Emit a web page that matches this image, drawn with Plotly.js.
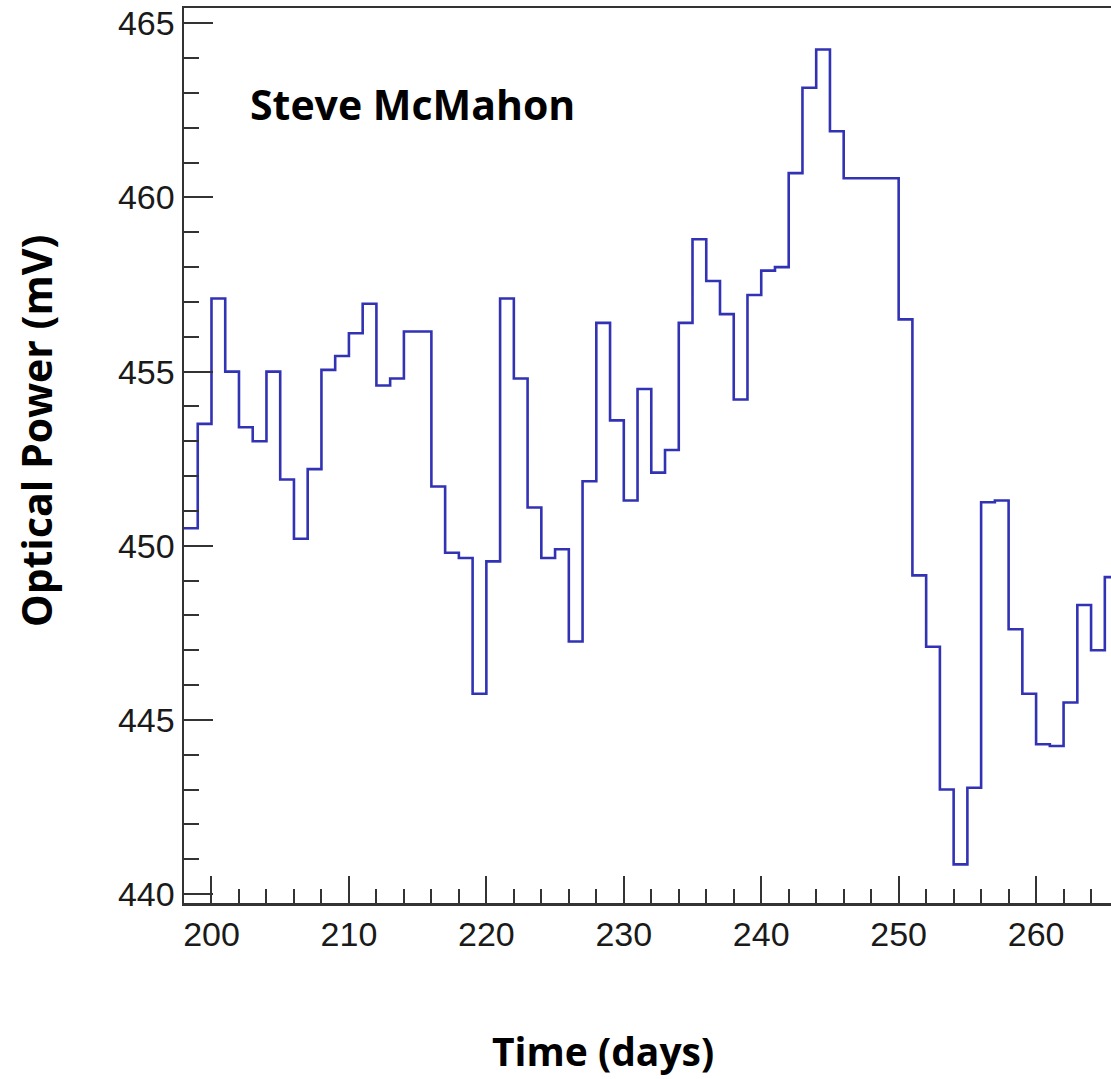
<!DOCTYPE html>
<html>
<head>
<meta charset="utf-8">
<script src="https://cdn.plot.ly/plotly-3.0.1.min.js"></script>
<style>html,body{margin:0;padding:0;background:#fff;}#chart{width:1111px;height:1079px;}</style>
</head>
<body>
<div id="chart"></div>
<script>
// Bin start day (each bin is 1 day wide)
const days = [198,199,200,201,202,203,204,205,206,207,208,209,210,211,212,213,214,215,216,217,
  218,219,220,221,222,223,224,225,226,227,228,229,230,231,232,233,234,235,236,237,
  238,239,240,241,242,243,244,245,246,247,248,249,250,251,252,253,254,255,256,257,
  258,259,260,261,262,263,264,265];
// Optical power (mV) per bin
const power = [450.5,453.5,457.1,455.0,453.4,453.0,455.0,451.9,450.2,452.2,455.05,455.45,456.1,456.95,454.6,454.8,456.15,456.15,451.7,449.8,
  449.65,445.75,449.55,457.1,454.8,451.1,449.65,449.9,447.25,451.85,456.4,453.6,451.3,454.5,452.1,452.75,456.4,458.8,457.6,456.65,
  454.2,457.2,457.9,458.0,460.7,463.15,464.25,461.9,460.55,460.55,460.55,460.55,456.5,449.15,447.1,443.0,440.85,443.05,451.25,451.3,
  447.6,445.75,444.3,444.25,445.5,448.3,447.0,449.1];
const xTickVals = [200,210,220,230,240,250,260];
const yTickVals = [440,445,450,455,460,465];
const chartLabel = "Steve McMahon";
const xTitle = "Time (days)";
const yTitle = "Optical Power (mV)";

// histogram outline: bin edges with step shape
const xs = days.concat([days[days.length-1] + 1]);
const ys = power.concat([power[power.length-1]]);

const W = 1111, H = 1079, L = 184, T = 8, B = 176, R = 0;
const pw = W - L - R, ph = H - T - B;
const px = v => (v - L) / pw;
const py = v => 1 - (v - T) / ph;

const axisColor = '#333333';
const tickFont = {family: 'Liberation Sans, Arial, sans-serif', size: 34, color: '#1a1a1a'};
const boldFont = s => ({family: 'Open Sans, sans-serif', size: s, color: '#000', weight: 700});

const trace = {
  x: xs, y: ys, type: 'scatter', mode: 'lines',
  line: {shape: 'hv', color: '#3232b4', width: 2.6},
  hoverinfo: 'skip', showlegend: false
};

const layout = {
  width: W, height: H,
  margin: {l: L, r: R, t: T, b: B, pad: 0},
  paper_bgcolor: '#fff', plot_bgcolor: '#fff',
  showlegend: false,
  xaxis: {
    range: [198, 265.45], showgrid: false, zeroline: false,
    showline: true, linecolor: axisColor, linewidth: 2.5, mirror: true,
    ticks: 'inside', ticklen: 27, tickwidth: 2, tickcolor: axisColor,
    tickvals: xTickVals, tickfont: tickFont,
    minor: {dtick: 2, tick0: 198, ticks: 'inside', ticklen: 14, tickwidth: 2, tickcolor: axisColor, showgrid: false},
    automargin: false
  },
  yaxis: {
    range: [439.742, 465.44], showgrid: false, zeroline: false,
    showline: true, linecolor: axisColor, linewidth: 2.5, mirror: false,
    ticks: 'inside', ticklen: 29, tickwidth: 2, tickcolor: axisColor,
    tickvals: yTickVals, tickfont: tickFont,
    minor: {dtick: 1, tick0: 440, ticks: 'inside', ticklen: 15, tickwidth: 2, tickcolor: axisColor, showgrid: false},
    automargin: false
  },
  annotations: [
    {text: chartLabel, xref: 'paper', yref: 'paper', x: px(248), y: py(104),
     xanchor: 'left', yanchor: 'middle', showarrow: false, font: boldFont(41)},
    {text: xTitle, xref: 'paper', yref: 'paper', x: px(603), y: py(1050), borderpad: 0,
     xanchor: 'center', yanchor: 'middle', showarrow: false, font: boldFont(39)},
    {text: yTitle, xref: 'paper', yref: 'paper', x: px(36), y: py(431), textangle: -90,
     xanchor: 'center', yanchor: 'middle', showarrow: false, font: boldFont(41)}
  ]
};

Plotly.newPlot('chart', [trace], layout, {displayModeBar: false, staticPlot: true});
</script>
</body>
</html>
